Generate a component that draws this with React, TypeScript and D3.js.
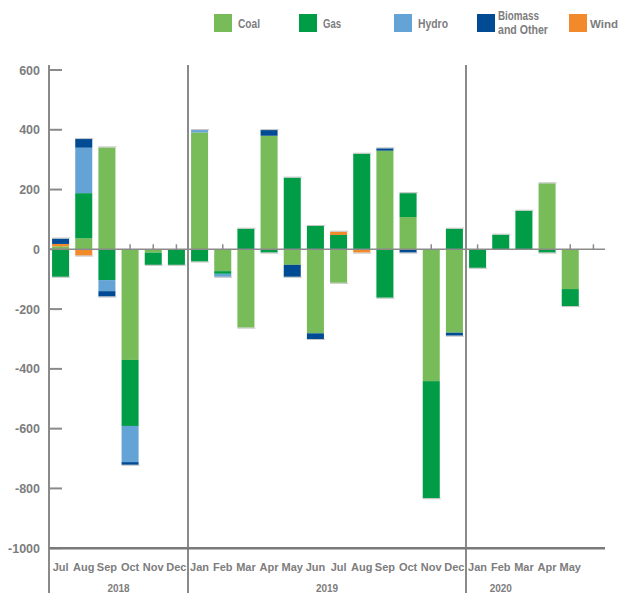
import React from "react";
import * as d3 from "d3";

// monthly change by source, Jul 2018 - May 2020 (+ one empty slot)
const months = [
  "Jul", "Aug", "Sep", "Oct", "Nov", "Dec",
  "Jan", "Feb", "Mar", "Apr", "May", "Jun", "Jul", "Aug", "Sep", "Oct", "Nov", "Dec",
  "Jan", "Feb", "Mar", "Apr", "May", "",
];
const years = [
  { label: "2018", from: 0, to: 6 },
  { label: "2019", from: 6, to: 18 },
  { label: "2020", from: 18, to: 24 },
];

const coal = [10, 37, 341, -370, -11, 0, 391, -73, -262, 380, -52, -281, -112, 0, 330, 108, -441, -279, 0, 0, 0, 221, -133, 0];
const gas = [-92, 151, -103, -221, -41, -52, -41, -9, 69, -11, 240, 78, 48, 320, -162, 80, -392, 69, -62, 49, 129, -11, -57, 0];
const hydro = [0, 152, -37, -121, 0, 0, 8, -10, 0, 0, 0, 0, 0, 0, 0, 0, 0, 0, 0, 0, 0, 0, 0, 0];
const biomass = [18, 29, -18, -9, 0, 0, 0, 0, 0, 19, -40, -19, 0, 0, 8, -11, 0, -10, 0, 0, 0, 0, 0, 0];
const wind = [8, -21, 0, 0, 0, 0, 0, 0, 0, 0, 0, 0, 11, -11, 0, 0, 0, 0, 0, 0, 0, 0, 0, 0];

const yTicks = [600, 400, 200, 0, -200, -400, -600, -800, -1000];

const series = [
  { key: "Coal", color: "#78bc59", values: coal },
  { key: "Gas", color: "#009d46", values: gas },
  { key: "Hydro", color: "#63a3d6", values: hydro },
  { key: "Biomass and Other", color: "#004b93", values: biomass },
  { key: "Wind", color: "#f28a2b", values: wind },
];
// wind sits under biomass in the stacks
const stackOrder = ["Coal", "Gas", "Hydro", "Wind", "Biomass and Other"];

const W = 621;
const H = 593;
const FONT = "'Liberation Sans', Arial, sans-serif";
const GREY = "#7d7d7d";

export default function App() {
  const rows = months.map((m, i) => {
    const r: Record<string, number> = { i };
    series.forEach((s) => (r[s.key] = s.values[i]));
    return r;
  });

  const stacked = d3
    .stack<Record<string, number>>()
    .keys(stackOrder)
    .offset(d3.stackOffsetDiverging)(rows);

  const x = d3
    .scaleBand<number>()
    .domain(months.map((_, i) => i))
    .range([49, 605])
    .paddingInner(0.265)
    .paddingOuter(0.1325);

  const y = d3.scaleLinear().domain([-1000, 600]).range([548.2, 70]);

  const bw = x.bandwidth();
  const gap = (x.step() - bw) / 2;
  const colorOf = (k: string) => series.find((s) => s.key === k)!.color;

  const totals = months.map((_, i) => {
    let pos = 0;
    let neg = 0;
    series.forEach((s) => {
      if (s.values[i] > 0) pos += s.values[i];
      else neg += s.values[i];
    });
    return { pos, neg };
  });

  const legendX = [214, 299, 394, 477, 569];
  const legendW = [22, 18, 30, 42, 0];

  return (
    <svg
      width={W}
      height={H}
      style={{ position: "absolute", left: 0, top: 0, background: "#fff" }}
      fontFamily={FONT}
    >
      {/* legend */}
      {series.map((s, i) => (
        <g key={s.key} transform={`translate(${legendX[i]},14)`}>
          <rect width={18} height={18} fill={s.color} />
          {s.key === "Biomass and Other" ? (
            <g fontSize={12.5} fontWeight="bold" fill={GREY}>
              <text x={21} y={6} textLength={41} lengthAdjust="spacingAndGlyphs">Biomass</text>
              <text x={21} y={20} textLength={50} lengthAdjust="spacingAndGlyphs">and Other</text>
            </g>
          ) : s.key === "Wind" ? (
            <text x={21} y={14} fontSize={11.5} fontWeight="bold" fill={GREY}>
              {s.key}
            </text>
          ) : (
            <text
              x={24}
              y={14}
              fontSize={12.5}
              fontWeight="bold"
              fill={GREY}
              textLength={legendW[i]}
              lengthAdjust="spacingAndGlyphs"
            >
              {s.key}
            </text>
          )}
        </g>
      ))}

      {/* y axis ticks and labels */}
      {yTicks.map((t) => (
        <g key={t}>
          <line x1={49} x2={62} y1={y(t)} y2={y(t)} stroke="#8a8a8a" strokeWidth={2} />
          <text
            x={40}
            y={y(t) + 4.5}
            textAnchor="end"
            fontSize={12.5}
            fontWeight="bold"
            fill={GREY}
          >
            {t}
          </text>
        </g>
      ))}

      {/* small month ticks on the zero line */}
      {months.map((m, i) => (
        <line
          key={"t" + i}
          x1={(x(i) ?? 0) + bw / 2}
          x2={(x(i) ?? 0) + bw / 2}
          y1={y(0) - 5}
          y2={y(0)}
          stroke="#8a8a8a"
          strokeWidth={1.5}
        />
      ))}

      {/* bars */}
      {stacked.map((layer) =>
        layer.map((d, i) => {
          const top = Math.max(d[0], d[1]);
          const bot = Math.min(d[0], d[1]);
          if (top === bot) return null;
          return (
            <rect
              key={layer.key + i}
              x={x(i)}
              width={bw}
              y={y(top)}
              height={y(bot) - y(top)}
              fill={colorOf(layer.key)}
            />
          );
        })
      )}

      {/* light end caps on bars */}
      {totals.map((t, i) => (
        <g key={"c" + i} stroke="#c4c4c4" strokeWidth={1}>
          {t.pos > 0 && (
            <line x1={x(i)} x2={(x(i) ?? 0) + bw + 1} y1={y(t.pos) - 0.5} y2={y(t.pos) - 0.5} />
          )}
          {t.neg < 0 && (
            <line x1={x(i)} x2={(x(i) ?? 0) + bw + 1} y1={y(t.neg) + 0.5} y2={y(t.neg) + 0.5} />
          )}
        </g>
      ))}

      {/* zero line */}
      <line x1={49} x2={605} y1={y(0)} y2={y(0)} stroke="#8a8a8a" strokeWidth={1.5} />

      {/* left axis and year dividers */}
      <line x1={49} x2={49} y1={65} y2={593} stroke="#8a8a8a" strokeWidth={2} />
      {years.slice(1).map((yr) => {
        const xv = (x(yr.from) ?? 0) - gap;
        return (
          <line key={yr.label} x1={xv} x2={xv} y1={65} y2={593} stroke="#8a8a8a" strokeWidth={2} />
        );
      })}

      {/* bottom axis */}
      <line x1={49} x2={605} y1={y(-1000)} y2={y(-1000)} stroke="#7a7a7a" strokeWidth={2.5} />

      {/* month labels */}
      {months.map((m, i) => (
        <text
          key={"m" + i}
          x={(x(i) ?? 0) + bw / 2}
          y={571}
          textAnchor="middle"
          fontSize={11}
          fontWeight="bold"
          fill={GREY}
        >
          {m}
        </text>
      ))}

      {/* year labels */}
      {years.map((yr) => (
        <text
          key={yr.label}
          x={yr.label === "2020" ? (x(19) ?? 0) + bw / 2 : ((x(yr.from) ?? 0) - gap + (x(yr.to - 1) ?? 0) + bw + gap) / 2}
          y={592}
          textAnchor="middle"
          fontSize={10}
          fontWeight="bold"
          fill={GREY}
        >
          {yr.label}
        </text>
      ))}
    </svg>
  );
}
